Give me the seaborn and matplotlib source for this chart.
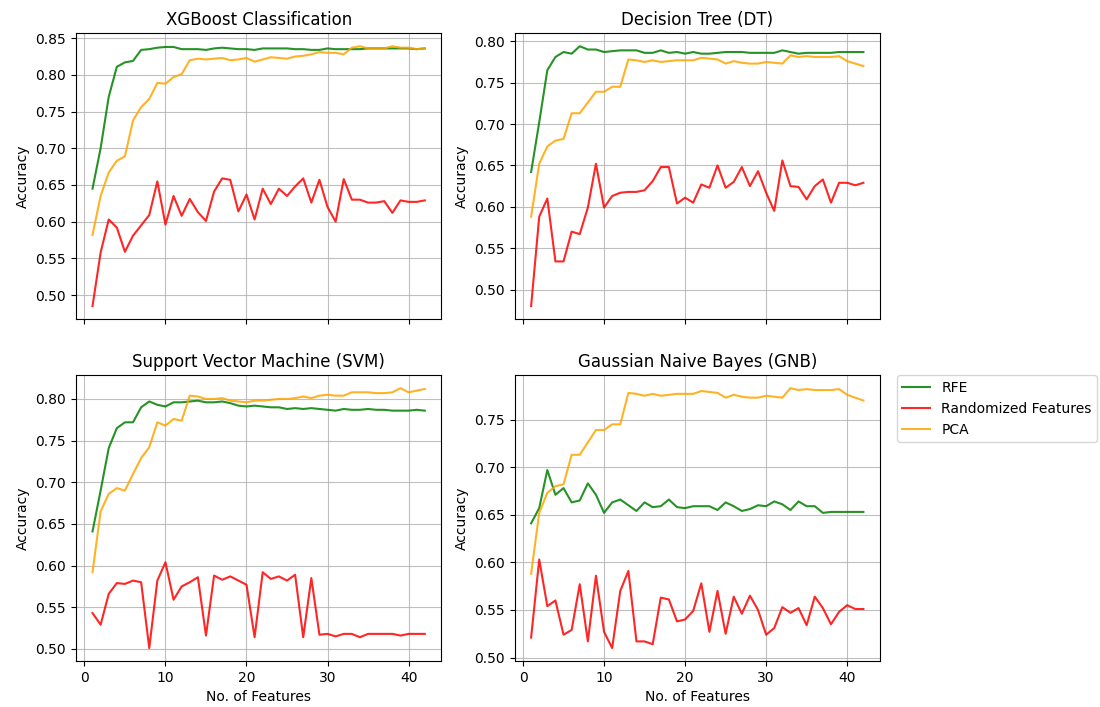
import numpy as np
import pandas as pd
import matplotlib
matplotlib.use('Agg')
import matplotlib.pyplot as plt
import seaborn as sns

n_features = list(range(1, 43))

titles = ['XGBoost Classification', 'Decision Tree (DT)',
          'Support Vector Machine (SVM)', 'Gaussian Naive Bayes (GNB)']
methods = ['RFE', 'Randomized Features', 'PCA']
colors = ['green', 'red', 'orange']

# XGBoost
xgb_rfe = [0.645, 0.700, 0.770, 0.811, 0.817, 0.819, 0.834, 0.835, 0.837, 0.838,
           0.838, 0.835, 0.835, 0.835, 0.834, 0.836, 0.837, 0.836, 0.835, 0.835,
           0.834, 0.836, 0.836, 0.836, 0.836, 0.835, 0.835, 0.834, 0.834, 0.836,
           0.835, 0.835, 0.835, 0.835, 0.836, 0.836, 0.836, 0.836, 0.836, 0.836,
           0.835, 0.836]
xgb_rand = [0.485, 0.558, 0.603, 0.592, 0.559, 0.581, 0.595, 0.609, 0.655, 0.596,
            0.635, 0.608, 0.631, 0.613, 0.601, 0.641, 0.659, 0.657, 0.614, 0.637,
            0.603, 0.645, 0.624, 0.645, 0.635, 0.648, 0.659, 0.626, 0.657, 0.620,
            0.600, 0.658, 0.630, 0.630, 0.626, 0.626, 0.628, 0.612, 0.629, 0.627,
            0.627, 0.629]
xgb_pca = [0.582, 0.635, 0.667, 0.683, 0.689, 0.738, 0.756, 0.767, 0.789, 0.788,
           0.797, 0.801, 0.820, 0.822, 0.821, 0.822, 0.823, 0.820, 0.821, 0.823,
           0.818, 0.821, 0.824, 0.823, 0.822, 0.825, 0.826, 0.828, 0.831, 0.830,
           0.830, 0.828, 0.837, 0.839, 0.836, 0.836, 0.836, 0.839, 0.837, 0.837,
           0.835, 0.836]

# Decision Tree
dt_rfe = [0.642, 0.702, 0.765, 0.781, 0.787, 0.785, 0.794, 0.790, 0.790, 0.787,
          0.788, 0.789, 0.789, 0.789, 0.786, 0.786, 0.789, 0.786, 0.787, 0.785,
          0.787, 0.785, 0.785, 0.786, 0.787, 0.787, 0.787, 0.786, 0.786, 0.786,
          0.786, 0.789, 0.787, 0.785, 0.786, 0.786, 0.786, 0.786, 0.787, 0.787,
          0.787, 0.787]
dt_rand = [0.480, 0.588, 0.610, 0.534, 0.534, 0.570, 0.567, 0.599, 0.652, 0.599,
           0.613, 0.617, 0.618, 0.618, 0.620, 0.631, 0.648, 0.648, 0.604, 0.611,
           0.605, 0.627, 0.623, 0.650, 0.623, 0.630, 0.648, 0.625, 0.643, 0.617,
           0.595, 0.656, 0.625, 0.624, 0.609, 0.625, 0.633, 0.605, 0.629, 0.629,
           0.626, 0.629]
dt_pca = [0.588, 0.652, 0.673, 0.680, 0.682, 0.713, 0.713, 0.726, 0.739, 0.739,
          0.745, 0.745, 0.778, 0.777, 0.775, 0.777, 0.775, 0.776, 0.777, 0.777,
          0.777, 0.780, 0.779, 0.778, 0.773, 0.776, 0.774, 0.773, 0.773, 0.775,
          0.774, 0.773, 0.783, 0.781, 0.782, 0.781, 0.781, 0.781, 0.782, 0.776,
          0.773, 0.770]

# SVM
svm_rfe = [0.641, 0.690, 0.741, 0.765, 0.772, 0.772, 0.790, 0.797, 0.793, 0.791,
           0.796, 0.796, 0.797, 0.798, 0.796, 0.796, 0.797, 0.795, 0.792, 0.791,
           0.792, 0.791, 0.790, 0.790, 0.788, 0.789, 0.788, 0.789, 0.788, 0.787,
           0.786, 0.788, 0.787, 0.787, 0.788, 0.787, 0.787, 0.786, 0.786, 0.786,
           0.787, 0.786]
svm_rand = [0.543, 0.529, 0.566, 0.579, 0.578, 0.582, 0.580, 0.501, 0.582, 0.604,
            0.559, 0.575, 0.580, 0.586, 0.516, 0.588, 0.583, 0.587, 0.582, 0.577,
            0.514, 0.592, 0.584, 0.587, 0.582, 0.589, 0.514, 0.585, 0.517, 0.518,
            0.515, 0.518, 0.518, 0.514, 0.518, 0.518, 0.518, 0.518, 0.516, 0.518,
            0.518, 0.518]
svm_pca = [0.592, 0.665, 0.686, 0.693, 0.690, 0.710, 0.729, 0.742, 0.772, 0.768,
           0.776, 0.774, 0.804, 0.803, 0.800, 0.800, 0.801, 0.798, 0.797, 0.796,
           0.798, 0.798, 0.799, 0.800, 0.800, 0.801, 0.803, 0.801, 0.804, 0.805,
           0.804, 0.804, 0.808, 0.808, 0.808, 0.807, 0.807, 0.808, 0.813, 0.808,
           0.810, 0.812]

# Gaussian NB
gnb_rfe = [0.641, 0.657, 0.697, 0.671, 0.678, 0.663, 0.665, 0.683, 0.671, 0.652,
           0.663, 0.666, 0.660, 0.654, 0.663, 0.658, 0.659, 0.666, 0.658, 0.657,
           0.659, 0.659, 0.659, 0.655, 0.663, 0.659, 0.654, 0.656, 0.660, 0.659,
           0.664, 0.661, 0.655, 0.664, 0.659, 0.659, 0.652, 0.653, 0.653, 0.653,
           0.653, 0.653]
gnb_rand = [0.521, 0.603, 0.554, 0.560, 0.524, 0.529, 0.577, 0.517, 0.586, 0.527,
            0.510, 0.570, 0.591, 0.517, 0.517, 0.514, 0.563, 0.561, 0.538, 0.540,
            0.549, 0.578, 0.527, 0.570, 0.525, 0.564, 0.546, 0.565, 0.550, 0.524,
            0.531, 0.553, 0.547, 0.552, 0.534, 0.564, 0.552, 0.535, 0.548, 0.555,
            0.551, 0.551]
gnb_pca = [0.588, 0.652, 0.673, 0.680, 0.682, 0.713, 0.713, 0.726, 0.739, 0.739,
           0.745, 0.745, 0.778, 0.777, 0.775, 0.777, 0.775, 0.776, 0.777, 0.777,
           0.777, 0.780, 0.779, 0.778, 0.773, 0.776, 0.774, 0.773, 0.773, 0.775,
           0.774, 0.773, 0.783, 0.781, 0.782, 0.781, 0.781, 0.781, 0.782, 0.776,
           0.773, 0.770]

results = {
    titles[0]: [xgb_rfe, xgb_rand, xgb_pca],
    titles[1]: [dt_rfe, dt_rand, dt_pca],
    titles[2]: [svm_rfe, svm_rand, svm_pca],
    titles[3]: [gnb_rfe, gnb_rand, gnb_pca],
}

rows = []
for title, series in results.items():
    for method, vals in zip(methods, series):
        for n, acc in zip(n_features, vals):
            rows.append({'model': title, 'method': method, 'n': n, 'acc': acc})
df = pd.DataFrame(rows)

fig, axes = plt.subplots(2, 2, figsize=(11, 7.07), dpi=100, sharex=True)
fig.subplots_adjust(left=0.069, right=0.8, top=0.953, bottom=0.065,
                    wspace=0.2, hspace=0.196)
palette = dict(zip(methods, colors))

for i, (ax, title) in enumerate(zip(axes.flat, titles)):
    sub = df[df['model'] == title]
    sns.lineplot(data=sub, x='n', y='acc', hue='method', hue_order=methods,
                 palette=palette, linewidth=1.5, alpha=0.85, ax=ax,
                 legend=(i == 3))
    ax.set_title(title, fontsize=12)
    ax.set_ylabel('Accuracy')
    ax.set_xlabel('No. of Features' if i >= 2 else '')
    ax.grid(True, color='#b0b0b0', linewidth=0.8, alpha=0.8)

handles, labels = axes[1, 1].get_legend_handles_labels()
axes[1, 1].legend(handles, labels, loc='upper left', bbox_to_anchor=(1.046, 1),
                  borderaxespad=0)

fig.savefig('out.png', dpi=100)
